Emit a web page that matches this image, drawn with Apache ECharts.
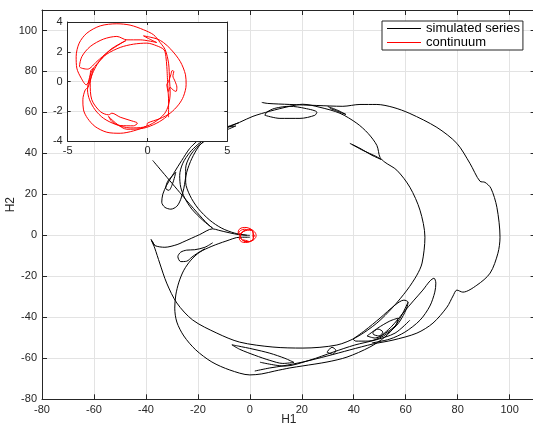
<!DOCTYPE html>
<html><head><meta charset="utf-8">
<script src="https://cdn.jsdelivr.net/npm/echarts@6/dist/echarts.min.js"></script>
<style>html,body{margin:0;padding:0;background:#fff}#c{width:533px;height:426px}</style>
</head><body><div id="c"></div>
<script>
// ---- data (H1, H2) ----
const innerArc = [[-17.3,45.9],[-13.5,49.8],[-8.5,52.7],[-3.9,55.2],[1.2,58.1],[7.7,60.6],[15.4,63.0],[20.4,64.0],[27.0,62.5],[34.7,59.6],[41.2,54.7],[45.5,49.8],[48.9,43.9],[50.1,38.1],[52.0,35.7],[56.6,31.8],[61.6,23.5],[65.5,12.3],[67.4,-0.9],[66.3,-13.5],[64.3,-19.4],[60.5,-26.7],[55.1,-35.0],[48.9,-42.8],[41.2,-49.6],[33.5,-53.5],[20.4,-55.0],[8.9,-54.5],[-3.9,-52.1],[-12.7,-47.7],[-22.0,-41.3],[-28.1,-33.0],[-32.0,-23.3],[-34.7,-13.5],[-36.6,-6.2],[-37.4,-3.8]];
const leftToOrigin = [[-37.4,-3.8],[-38.0,-2.0],[-36.8,-4.6],[-37.6,-3.0],[-36.5,-5.0],[-32.7,-5.8],[-28.0,-4.5],[-25.8,-3.3],[-19.3,0.4],[-14.3,3.2],[-12.0,2.5],[-8.0,1.3],[-3.9,0.3],[0,0]];
const cuspArc1 = [[-14.3,3.5],[-18.1,7.4],[-22.3,12.8],[-25.0,18.1],[-26.6,23.5],[-27.0,29.3],[-25.8,35.2],[-23.1,40.5],[-20.0,44.4],[-17.3,46.9],[-14.6,49.3]];
const cuspArc2 = [[-1.2,0.1],[-5.8,1.1],[-10.8,3.5],[-15.4,7.4],[-20.0,13.3],[-23.1,19.6],[-24.7,25.9],[-24.7,32.8],[-23.1,38.6],[-20.4,43.0],[-16.9,46.4],[-13.5,49.3]];
const cuspLoop = [[-20.4,45.9],[-23.1,42.5],[-26.2,36.6],[-29.3,30.3],[-32.0,24.5],[-33.5,20.1],[-33.9,16.2],[-32.7,13.7],[-30.4,12.8],[-28.1,14.2],[-26.6,17.6],[-25.4,23.0],[-24.3,30.8],[-22.3,37.6],[-19.6,43.5],[-16.9,46.9]];
const cuspSmallLoop = [[-28.5,30.8],[-30.0,28.8],[-31.6,26.4],[-32.4,23.0],[-31.2,22.0],[-29.7,25.4],[-28.5,30.8]];
const straightLine = [[-37.4,36.6],[-25.4,18.6],[-20.4,11.3],[-16.2,5.5],[-14.3,3.5]];
const lowerBranch = [[0,-0.9],[-3.9,-0.9],[-9.2,-2.8],[-14.6,-5.3],[-19.3,-8.2],[-22.7,-12.1],[-25.4,-17.0],[-27.3,-22.8],[-28.5,-29.1],[-28.9,-35.5],[-28.1,-42.3],[-25.4,-49.1],[-20.8,-55.9],[-14.6,-61.8],[-7.7,-65.7],[0,-68.1],[4.6,-67.6],[9.6,-66.2],[15.4,-64.7],[20.4,-63.7],[29.7,-61.8],[37.4,-59.4],[46.2,-54.5],[52.0,-49.6],[55.9,-44.3],[58.9,-37.9],[60.9,-32.6]];
const smallLowerLoop = [[-14.3,-3.6],[-17.3,-5.8],[-21.2,-7.0],[-24.3,-7.2],[-26.6,-8.2],[-27.7,-10.4],[-26.6,-12.8],[-24.3,-12.6],[-22.3,-10.6],[-20.4,-8.9],[-17.3,-6.5]];
const outerLobe = [[4.6,64.9],[6.9,64.4],[15.4,63.9],[25.8,63.4],[35.8,63.0],[42.4,63.9],[48.9,63.9],[55.1,62.5],[61.6,59.5],[72.0,52.7],[79.7,44.9],[84.7,35.2],[88.6,26.4],[90.5,25.9],[92.8,23.0],[95.1,13.7],[96.3,-0.9],[95.5,-8.7],[92.5,-18.4],[87.4,-24.3],[82.0,-27.7],[79.7,-26.7],[78.2,-29.6],[75.9,-35.0],[70.5,-42.8],[64.3,-47.7],[55.1,-51.1],[47.4,-53.0],[38.5,-55.9],[29.7,-58.9],[20.4,-61.8],[12.7,-63.7],[7.7,-64.7],[1.9,-66.2]];
const topTongue = [[38.5,44.9],[42.4,42.5],[47.0,39.1],[50.5,37.1],[48.5,38.6],[43.5,41.5],[39.3,44.4]];
const flatTopLoop = [[5.8,58.6],[11.6,57.1],[19.3,57.1],[25.0,58.6],[25.8,60.1],[21.2,62.0],[15.4,63.0],[9.6,62.0],[6.5,60.1],[5.8,58.6]];
const smallTopTongue = [[30.0,62.9],[33.9,61.0],[37.0,59.0],[33.9,60.5],[30.8,62.0]];
const arrowHead = [[-8.9,51.5],[-5.4,53.4],[-8.9,52.9],[-4.2,55.0]];
const nestOuter = [[39.7,-50.6],[44.3,-46.4],[50.1,-40.4],[55.9,-34.0],[59.3,-31.6],[60.9,-32.6],[59.7,-37.5],[56.6,-43.8],[51.4,-49.1],[45.5,-51.6],[40.8,-51.6],[39.7,-50.6]];
const nestMiddle = [[45.1,-49.1],[49.3,-45.2],[53.9,-41.8],[57.0,-40.4],[56.2,-43.8],[52.8,-47.2],[48.2,-50.1],[45.1,-49.1]];
const nestInner = [[47.4,-47.2],[49.3,-45.7],[51.2,-47.2],[49.7,-49.1],[47.4,-48.1],[47.4,-47.2]];
const loopRight = [[50.1,-49.6],[54.7,-44.3],[58.9,-38.0],[63.2,-31.6],[66.6,-26.7],[69.3,-22.3],[70.9,-20.9],[71.6,-23.3],[71.2,-27.7],[69.3,-34.5],[65.5,-41.4],[59.7,-47.2],[53.9,-50.6],[47.0,-52.5]];
const smallLoopG = [[29.7,-57.0],[31.6,-54.6],[33.1,-56.1],[31.9,-58.0],[29.7,-57.0]];
const bottomStrand = [[3.9,-61.9],[13.5,-63.8],[23.1,-60.9],[32.0,-57.0],[40.4,-53.5],[48.2,-51.1],[55.9,-47.7],[61.6,-41.4]];
const tongue = [[17.0,-62.0],[12.7,-62.5],[7.7,-61.0],[1.9,-58.5],[-3.9,-55.6],[-6.9,-53.4],[-4.5,-54.0],[1.2,-55.5],[7.7,-57.5],[13.5,-60.0],[17.0,-62.0]];

const continuum = [[1.32,-2.40],[1.32,-1.46],[1.30,-0.78],[1.21,-0.22],[1.32,0.0],[1.46,0.45],[1.55,0.74],[1.65,0.67],[1.59,0.38],[1.73,0.0],[1.84,-0.38],[1.79,-0.67],[1.59,-0.56],[1.42,-0.38],[1.32,-0.67],
 [1.21,1.01],[1.15,1.68],[1.04,2.13],[0.58,2.40],[-0.04,2.58],[-0.88,2.51],[-1.71,2.29],[-2.55,1.84],[-3.13,1.23],[-3.47,0.74],[-3.67,0.11],[-3.76,-0.56],[-3.63,-1.23],[-3.28,-1.91],[-2.76,-2.47],[-2.03,-2.87],[-1.09,-3.12],[-0.25,-3.07],[0.48,-2.71],[1.06,-2.17],[1.32,-1.57],[1.42,-0.78],[1.38,0.11],[1.32,1.23],[1.11,2.13],[0.79,2.62],
 [0.38,3.14],[-0.25,3.48],[-1.09,3.79],[-1.92,3.88],[-2.96,3.74],[-3.80,3.25],[-4.28,2.58],[-4.47,1.68],[-4.43,0.90],[-4.15,0.22],[-3.84,-0.22],[-3.63,0.11],[-3.55,0.74],[-3.38,0.90],[-3.47,0.56],[-3.72,-0.38],[-3.90,-0.56],
 [-4.05,-1.23],[-4.01,-1.91],[-3.76,-2.47],[-3.28,-3.03],[-2.55,-3.41],[-1.71,-3.48],[-0.88,-3.32],[-0.04,-2.98],[0,-2.80],[0.79,-2.49],[1.42,-2.13],[1.94,-1.57],[2.25,-1.01],[2.42,-0.22],[2.38,0.45],[2.05,1.35],[1.46,2.17],[1.0,2.62],[0.63,2.85],[0.17,2.98],
 [-0.25,3.07],[0.06,2.89],[0.58,2.62],[-0.46,2.80],[-1.29,2.80],[-1.92,3.03],[-2.76,2.85],[-3.59,2.35],[-4.11,1.68],[-4.26,1.01],[-3.76,0.83],[-3.17,1.35],[-2.44,2.02],[-1.71,2.53],[-1.34,2.76],
 [-2.34,2.13],[-3.17,1.12],[-3.59,-0.11],[-3.49,-1.23],[-2.96,-2.02],[-2.44,-2.24],[-2.23,-2.13],[-1.71,-2.40],[-0.98,-2.65],[-0.63,-2.80],[-0.88,-2.98],[-1.71,-2.96],[-2.23,-2.69],[-2.44,-2.35],
 [-1.29,-3.21],[-0.25,-3.14],[0.58,-2.80],[1.21,-2.35],[1.32,-2.13]];

const mainXTicks = {min:-80, max:110, interval:20};
const mainYTicks = {min:-80, max:110, interval:20};
const insetXTicks = {min:-5, max:5, interval:5};
const insetYTicks = {min:-4, max:4, interval:2};

const blackSegments = [innerArc,leftToOrigin,cuspArc1,cuspArc2,cuspLoop,cuspSmallLoop,straightLine,lowerBranch,smallLowerLoop,outerLobe,topTongue,flatTopLoop,smallTopTongue,arrowHead,nestOuter,nestMiddle,nestInner,loopRight,smallLoopG,bottomStrand,tongue];

const AX = '#262626', GRID = '#e3e3e3', FONT = 'Liberation Sans, Arial, Helvetica, sans-serif';

function axis(opts, extra) {
  return Object.assign({
    type:'value', min:opts.min, max:opts.max, interval:opts.interval,
    axisLine:{show:true, onZero:false, lineStyle:{color:AX, width:1}},
    axisTick:{show:true, inside:true, length:5, lineStyle:{color:AX}},
    axisLabel:{show:true, color:AX, fontSize:11, fontFamily:FONT, margin:5, showMaxLabel:false, showMinLabel:true, hideOverlap:false},
    splitLine:{show:true, lineStyle:{color:GRID, width:1}}
  }, extra);
}
function sideAxis(opts, extra) {
  return axis(opts, Object.assign({axisLabel:{show:false}, splitLine:{show:false}}, extra));
}

const series = [];
blackSegments.forEach(function(seg){
  series.push({name:'simulated series', type:'line', xAxisIndex:0, yAxisIndex:0, data:seg,
    symbol:'none', showSymbol:false, smooth:0.3, lineStyle:{color:'#000', width:1}, itemStyle:{color:'#000'}, z:3});
});
series.push({name:'continuum', type:'line', xAxisIndex:0, yAxisIndex:0, data:continuum,
  symbol:'none', showSymbol:false, smooth:0.3, lineStyle:{color:'#ff0000', width:1}, itemStyle:{color:'#ff0000'}, z:4});
series.push({name:'continuum', type:'line', xAxisIndex:2, yAxisIndex:2, data:continuum, zlevel:1,
  symbol:'none', showSymbol:false, smooth:0.3, lineStyle:{color:'#ff0000', width:1}, itemStyle:{color:'#ff0000'}, z:4});

const chart = echarts.init(document.getElementById('c'), null, {renderer:'canvas'});
chart.setOption({
  animation:false,
  backgroundColor:'#fff',
  textStyle:{fontFamily:FONT},
  grid:[
    {left:42, top:10, width:493.6, height:389.3, containLabel:false, outerBoundsMode:'none'},
    {left:67.7, top:22, width:159.6, height:119, containLabel:false, outerBoundsMode:'none', show:true, backgroundColor:'#fff', borderWidth:0, zlevel:1}
  ],
  xAxis:[
    axis(mainXTicks, {gridIndex:0, position:'bottom', name:'H1', nameLocation:'middle', nameGap:14, nameMoveOverlap:false, nameTextStyle:{color:AX, fontSize:12, fontFamily:FONT, verticalAlign:'top'}}),
    sideAxis(mainXTicks, {gridIndex:0, position:'top'}),
    axis(insetXTicks, {gridIndex:1, position:'bottom', zlevel:1, axisTick:{show:true, inside:true, length:3, lineStyle:{color:AX}}, axisLabel:{show:true, color:AX, fontSize:11, fontFamily:FONT, margin:4, hideOverlap:false}}),
    sideAxis(insetXTicks, {gridIndex:1, position:'top', zlevel:1, axisTick:{show:true, inside:true, length:3, lineStyle:{color:AX}}})
  ],
  yAxis:[
    axis(mainYTicks, {gridIndex:0, position:'left', name:'H2', nameLocation:'middle', nameGap:25, nameMoveOverlap:false, nameTextStyle:{color:AX, fontSize:12, fontFamily:FONT}}),
    sideAxis(mainYTicks, {gridIndex:0, position:'right'}),
    axis(insetYTicks, {gridIndex:1, position:'left', zlevel:1, axisTick:{show:true, inside:true, length:3, lineStyle:{color:AX}}, axisLabel:{show:true, color:AX, fontSize:11, fontFamily:FONT, margin:5, hideOverlap:false}}),
    sideAxis(insetYTicks, {gridIndex:1, position:'right', zlevel:1, axisTick:{show:true, inside:true, length:3, lineStyle:{color:AX}}})
  ],
  legend:{
    data:['simulated series','continuum'], orient:'vertical', left:382, top:21,
    icon:'rect', itemGap:1, itemWidth:34, itemHeight:1, padding:[1,3,1,5],
    borderColor:AX, borderWidth:1, backgroundColor:'#fff',
    textStyle:{color:'#000', fontSize:13, fontFamily:FONT, lineHeight:13}
  },
  series:series
});
</script>
</body></html>
